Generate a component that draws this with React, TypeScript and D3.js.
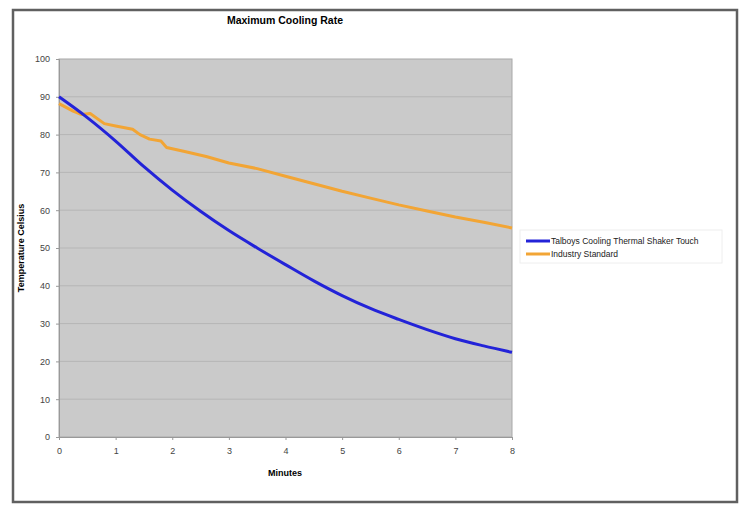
import React, { useEffect, useRef } from 'react';
import * as d3 from 'd3';

// Minutes / temperature readings (Celsius)
const talboysMinutes = [0, 0.5, 1, 1.5, 2, 2.5, 3, 3.5, 4, 4.5, 5, 5.5, 6, 6.5, 7, 7.5, 8];
const talboysTemps = [90, 84.5, 78.3, 71.5, 65.3, 59.7, 54.6, 50.0, 45.6, 41.3, 37.4, 34.0, 31.1, 28.4, 26.0, 24.1, 22.4];

const industryMinutes = [0, 0.25, 0.4, 0.55, 0.8, 1.0, 1.3, 1.43, 1.6, 1.8, 1.9, 2.2, 2.6, 3.0, 3.5, 4, 4.5, 5, 5.5, 6, 6.5, 7, 7.5, 8];
const industryTemps = [88.2, 86.2, 85.3, 85.6, 82.9, 82.3, 81.4, 80.0, 78.8, 78.3, 76.6, 75.6, 74.2, 72.5, 71.0, 69.0, 67.0, 65.0, 63.2, 61.4, 59.8, 58.2, 56.8, 55.3];

const seriesNames = ['Talboys Cooling Thermal Shaker Touch', 'Industry Standard'];
const seriesColors = ['#2323d8', '#f2a535'];

const xTicks = [0, 1, 2, 3, 4, 5, 6, 7, 8];
const yTicks = [0, 10, 20, 30, 40, 50, 60, 70, 80, 90, 100];

const W = 741;
const H = 508;

export default function App() {
  const svgRef = useRef<SVGSVGElement>(null);

  useEffect(() => {
    if (!svgRef.current) return;
    const svg = d3.select(svgRef.current);
    svg.selectAll('*').remove();

    const font = '"Liberation Sans", Arial, sans-serif';
    const left = 59, right = 512, top = 59, bottom = 437;

    const x = d3.scaleLinear().domain([0, 8]).range([left, right]);
    const y = d3.scaleLinear().domain([0, 100]).range([bottom, top]);

    svg.append('rect').attr('width', W).attr('height', H).attr('fill', '#fff');

    // outer frame
    svg.append('rect')
      .attr('x', 13).attr('y', 10)
      .attr('width', 724).attr('height', 492)
      .attr('fill', 'none')
      .attr('stroke', '#606060')
      .attr('stroke-width', 2.5);

    // plot area
    svg.append('rect')
      .attr('x', left).attr('y', top)
      .attr('width', right - left).attr('height', bottom - top)
      .attr('fill', '#cacaca')
      .attr('stroke', '#a8a8a8')
      .attr('stroke-width', 1);

    // gridlines
    svg.append('g')
      .selectAll('line')
      .data(yTicks.filter(v => v > 0 && v < 100))
      .enter()
      .append('line')
      .attr('x1', left).attr('x2', right)
      .attr('y1', d => y(d)).attr('y2', d => y(d))
      .attr('stroke', '#b6b6b6')
      .attr('stroke-width', 1);

    // axes
    const xAxis = svg.append('g')
      .attr('transform', `translate(0,${bottom})`)
      .call(d3.axisBottom(x).tickValues(xTicks).tickSize(3).tickFormat(d3.format('d')));
    xAxis.select('.domain').attr('stroke', '#999');
    xAxis.selectAll('line').attr('stroke', '#999');
    xAxis.selectAll('text')
      .attr('dy', '1.2em')
      .style('font-family', font).style('font-size', '9px').attr('fill', '#444');

    const yAxis = svg.append('g')
      .attr('transform', `translate(${left},0)`)
      .call(d3.axisLeft(y).tickValues(yTicks).tickSize(3).tickFormat(d3.format('d')));
    yAxis.select('.domain').attr('stroke', '#999');
    yAxis.selectAll('line').attr('stroke', '#999');
    yAxis.selectAll('text')
      .attr('x', -9)
      .style('font-family', font).style('font-size', '9px').attr('fill', '#444');

    // lines: smooth reading for the shaker, raw steps for the standard
    const curves = [d3.curveMonotoneX, d3.curveLinear];
    const series: [number, number][][] = [
      talboysMinutes.map((m, i) => [m, talboysTemps[i]]),
      industryMinutes.map((m, i) => [m, industryTemps[i]]),
    ];

    [1, 0].forEach(i => {
      const line = d3.line<[number, number]>()
        .x(d => x(d[0]))
        .y(d => y(d[1]))
        .curve(curves[i]);
      svg.append('path')
        .datum(series[i])
        .attr('d', line)
        .attr('fill', 'none')
        .attr('stroke', seriesColors[i])
        .attr('stroke-width', 3)
        .attr('stroke-linejoin', 'round');
    });

    // title & labels
    svg.append('text')
      .attr('x', 285).attr('y', 24)
      .attr('text-anchor', 'middle')
      .style('font-family', font).style('font-size', '10.5px').style('font-weight', 'bold')
      .text('Maximum Cooling Rate');

    svg.append('text')
      .attr('x', 285).attr('y', 476)
      .attr('text-anchor', 'middle')
      .style('font-family', font).style('font-size', '9px').style('font-weight', 'bold')
      .text('Minutes');

    svg.append('text')
      .attr('transform', `translate(24,${(top + bottom) / 2}) rotate(-90)`)
      .attr('text-anchor', 'middle')
      .style('font-family', font).style('font-size', '9px').style('font-weight', 'bold')
      .text('Temperature Celsius');

    // legend
    const lg = svg.append('g').attr('transform', 'translate(520,230)');
    lg.append('rect')
      .attr('width', 202).attr('height', 33)
      .attr('fill', '#fff').attr('stroke', '#eeeeee');
    seriesNames.forEach((name, i) => {
      const ly = 11 + i * 13;
      lg.append('line')
        .attr('x1', 6).attr('x2', 30)
        .attr('y1', ly).attr('y2', ly)
        .attr('stroke', seriesColors[i]).attr('stroke-width', 3);
      lg.append('text')
        .attr('x', 31).attr('y', ly + 3)
        .style('font-family', font).style('font-size', '8.5px').attr('fill', '#222')
        .text(name);
    });
  }, []);

  return (
    <svg
      ref={svgRef}
      width={W}
      height={H}
      style={{ position: 'absolute', left: 0, top: 0 }}
    />
  );
}
